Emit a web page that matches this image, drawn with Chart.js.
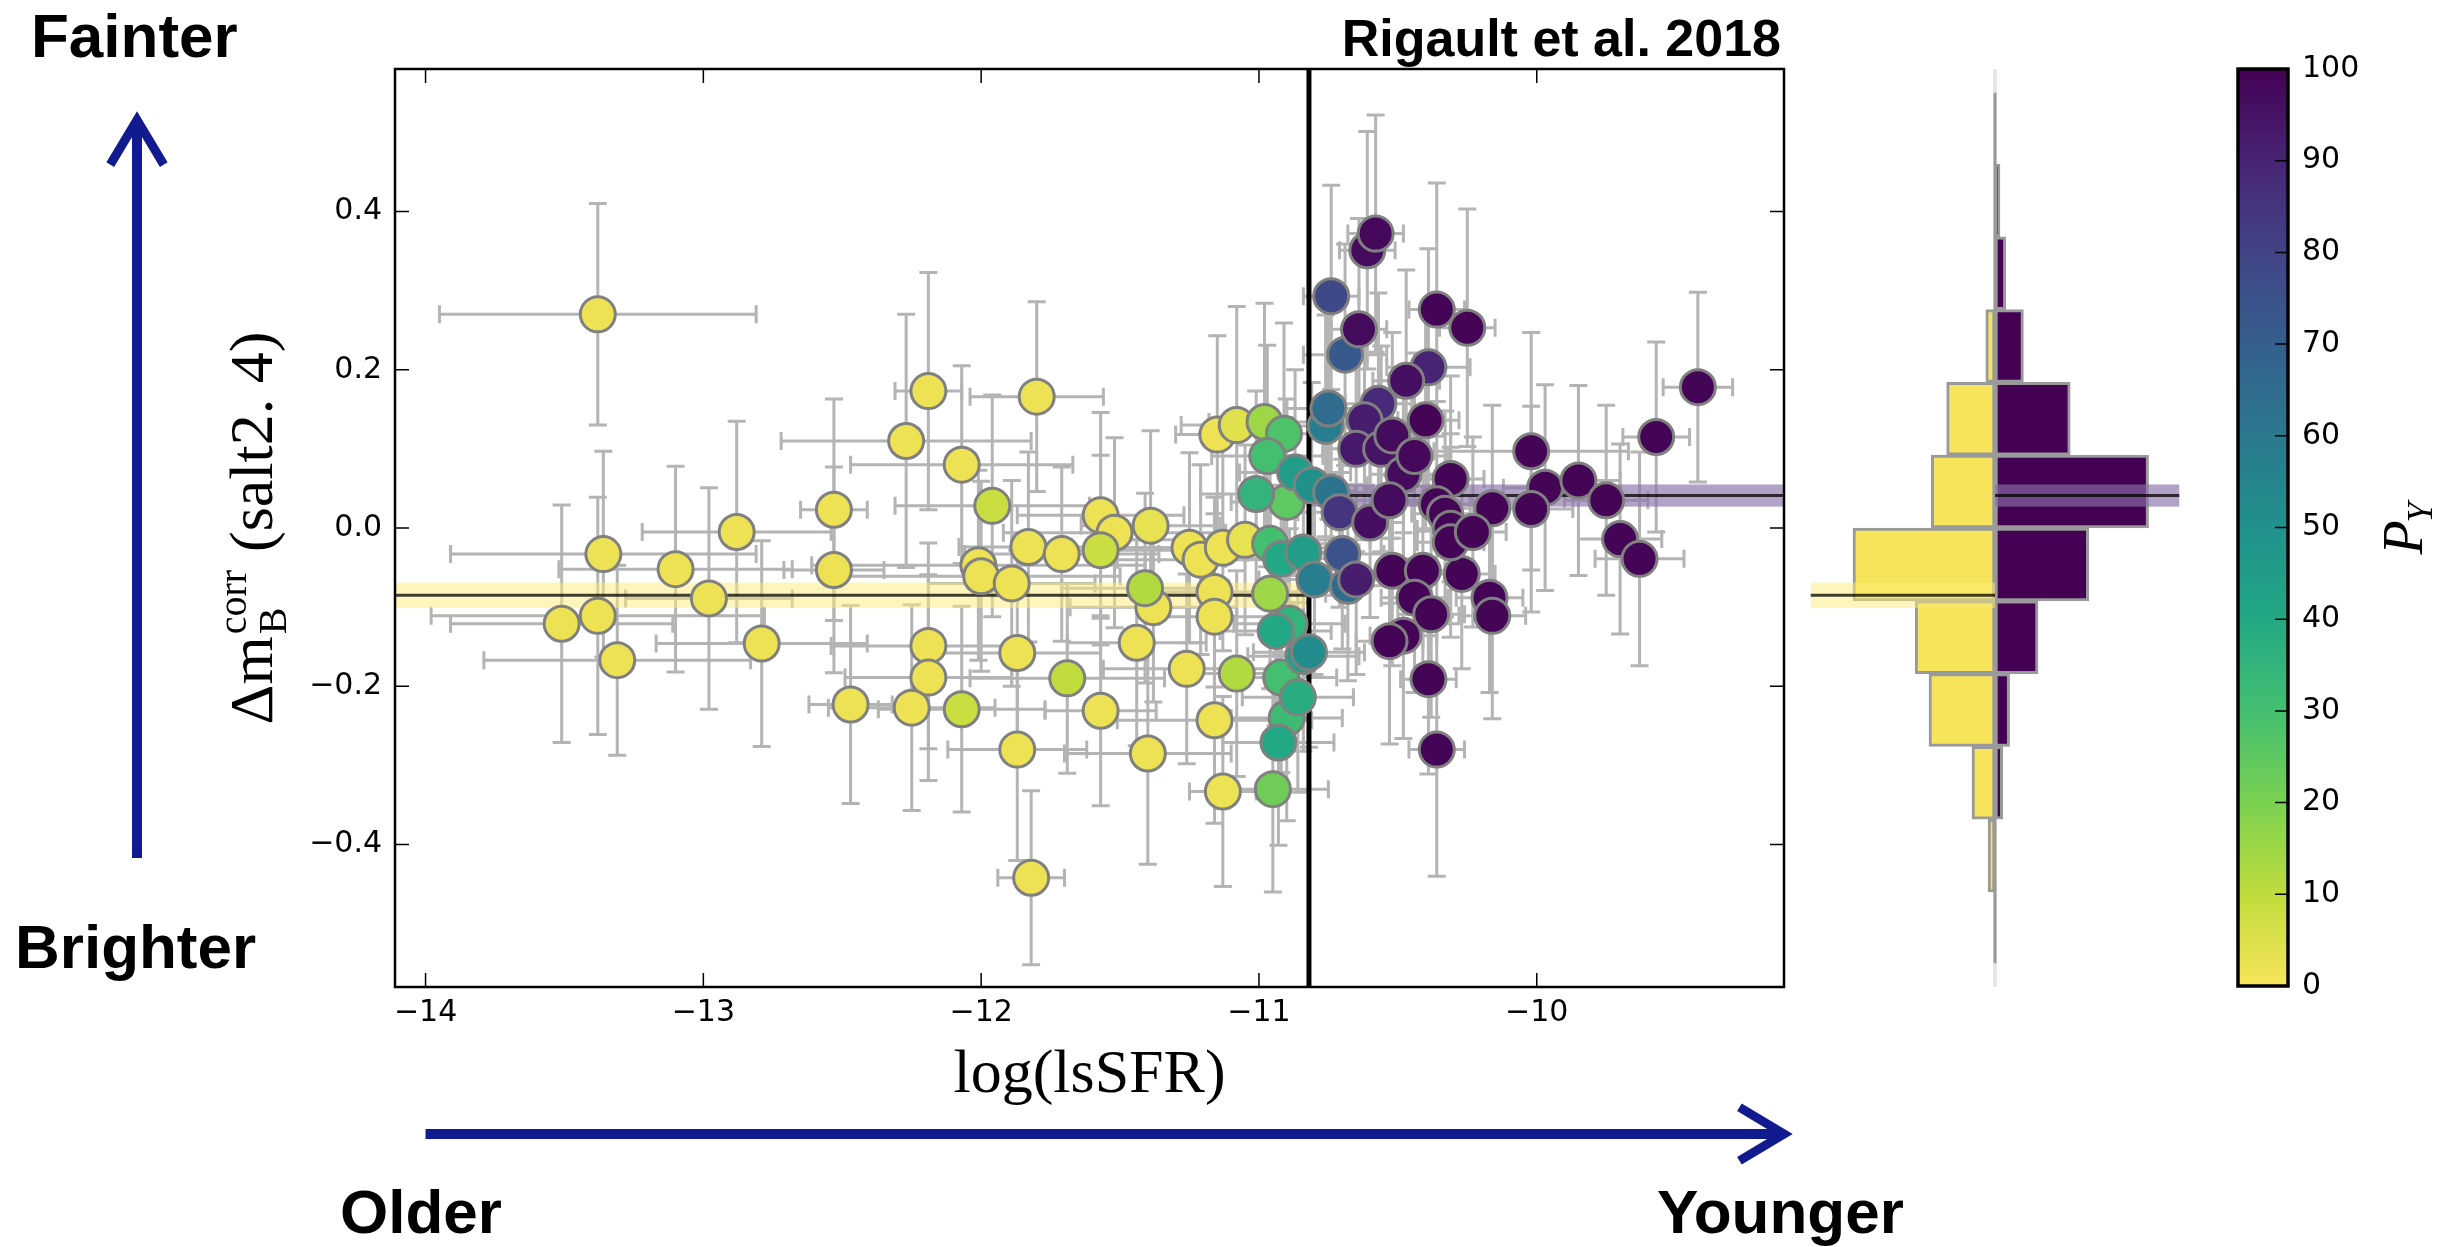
<!DOCTYPE html>
<html>
<head>
<meta charset="utf-8">
<script src="https://cdn.jsdelivr.net/npm/chart.js@4.4.1/dist/chart.umd.min.js"></script>
<style>
  html, body { margin: 0; padding: 0; background: #fff; }
  body { width: 2447px; height: 1247px; position: relative; overflow: hidden; }
  canvas { position: absolute; }
</style>
</head>
<body>
<canvas id="mainChart" width="1960" height="1247" style="left:0;top:0;width:1960px;height:1247px"></canvas>
<canvas id="histChart" width="400" height="918" style="left:1800px;top:69px;width:400px;height:918px"></canvas>
<canvas id="cbarChart" width="247" height="1247" style="left:2200px;top:0;width:247px;height:1247px"></canvas>
<script>
// --- axis ranges and ticks ---
const xMin = -14.11, xMax = -9.11;
const yMin = -0.58, yMax = 0.58;
const xTickValues = [-14, -13, -12, -11, -10];
const xTickLabels = ['−14', '−13', '−12', '−11', '−10'];
const yTickValues = [-0.4, -0.2, 0, 0.2, 0.4];
const yTickLabels = ['−0.4', '−0.2', '0.0', '0.2', '0.4'];
const cbTickValues = [0, 10, 20, 30, 40, 50, 60, 70, 80, 90, 100];
const cbTickLabels = ['0', '10', '20', '30', '40', '50', '60', '70', '80', '90', '100'];

// --- SNe Ia: local specific SFR, standardised residual, prob. young ---
const lsSFR = [
  -13.38, -13.36, -13.10, -12.98, -12.88, -13.51, -13.38, -13.31, -12.79, -12.53,
  -12.53, -12.47, -12.27, -12.19, -12.07, -11.80, -12.01, -12.00, -11.89, -11.83,
  -11.71, -11.57, -11.52, -11.39, -11.38, -11.44, -11.25, -11.21, -11.13, -11.05,
  -11.16, -11.16, -11.26, -11.16, -11.13, -11.40, -11.57, -11.87, -11.87, -12.19,
  -12.19, -12.25, -11.82, -11.15, -11.08, -11.96, -11.57, -11.41, -11.08, -11.69,
  -12.07, -10.98, -10.96, -10.95, -10.90, -10.91, -10.97, -10.96, -10.92, -10.90,
  -11.01, -10.89, -10.86, -10.92, -10.94, -10.93, -10.87, -10.84, -10.84, -10.81,
  -10.82, -10.80, -10.76, -10.74, -10.75, -10.68, -10.69, -10.70, -10.74, -10.71,
  -10.57, -10.39, -10.62, -10.65, -10.65, -10.56, -10.47, -10.60, -10.64, -10.61,
  -10.52, -10.48, -10.53, -10.58, -10.44, -10.36, -10.25, -10.40, -10.31, -10.36,
  -10.33, -10.31, -10.52, -10.41, -10.27, -10.44, -10.38, -10.48, -10.53, -10.39,
  -10.36, -10.02, -9.97, -9.85, -9.75, -9.70, -9.63, -9.57, -9.42, -10.02,
  -10.16, -10.31, -10.17, -10.16, -10.23
];
const lsSFRerr = [
  0.57, 0.55, 0.42, 0.30, 0.34, 0.40, 0.60, 0.48, 0.38, 0.12,
  0.18, 0.15, 0.45, 0.12, 0.40, 0.24, 0.60, 0.50, 0.30, 0.25,
  0.35, 0.30, 0.40, 0.25, 0.30, 0.25, 0.35, 0.30, 0.40, 0.45,
  0.30, 0.20, 0.30, 0.35, 0.12, 0.30, 0.20, 0.25, 0.30, 0.35,
  0.30, 0.30, 0.12, 0.15, 0.20, 0.35, 0.30, 0.30, 0.20, 0.35,
  0.30, 0.20, 0.20, 0.20, 0.20, 0.20, 0.20, 0.20, 0.20, 0.20,
  0.20, 0.20, 0.20, 0.20, 0.20, 0.20, 0.20, 0.20, 0.20, 0.20,
  0.20, 0.20, 0.15, 0.15, 0.15, 0.15, 0.15, 0.15, 0.10, 0.15,
  0.12, 0.15, 0.12, 0.12, 0.12, 0.12, 0.12, 0.12, 0.10, 0.10,
  0.12, 0.12, 0.12, 0.10, 0.12, 0.10, 0.10, 0.12, 0.12, 0.12,
  0.12, 0.12, 0.12, 0.12, 0.12, 0.12, 0.12, 0.12, 0.12, 0.10,
  0.10, 0.35, 0.15, 0.15, 0.15, 0.15, 0.16, 0.12, 0.125, 0.15,
  0.15, 0.12, 0.12, 0.12, 0.12
];
const dmB = [
  0.270, -0.033, -0.052, -0.089, -0.005, -0.121, -0.111, -0.167, -0.146, 0.023,
  -0.053, -0.223, 0.110, 0.173, 0.080, 0.166, -0.047, -0.061, -0.070, -0.024,
  -0.033, 0.016, -0.006, 0.003, -0.100, -0.145, -0.025, -0.040, -0.025, -0.015,
  -0.081, -0.112, -0.178, -0.243, -0.333, -0.285, -0.231, -0.280, -0.158, -0.149,
  -0.189, -0.227, -0.442, 0.118, 0.130, 0.028, -0.028, -0.076, -0.184, -0.190,
  -0.229, 0.134, -0.083, -0.330, 0.033, 0.119, 0.091, -0.020, -0.189, -0.240,
  0.043, -0.121, -0.214, -0.039, -0.130, -0.271, 0.070, -0.031, -0.162, 0.054,
  -0.157, -0.065, 0.129, 0.045, 0.151, -0.073, 0.219, -0.033, 0.293, 0.020,
  0.157, 0.203, 0.136, -0.065, 0.100, 0.100, 0.186, 0.007, 0.251, 0.351,
  0.117, 0.068, 0.035, 0.372, 0.091, 0.276, 0.253, 0.136, 0.062, 0.030,
  0.018, -0.001, -0.054, -0.054, -0.058, -0.088, -0.109, -0.136, -0.143, -0.191,
  -0.280, 0.097, 0.051, 0.060, 0.035, -0.014, -0.039, 0.115, 0.178, 0.024,
  0.025, -0.018, -0.088, -0.111, -0.005
];
const dmBerr = [
  0.14, 0.13, 0.13, 0.14, 0.14, 0.15, 0.15, 0.12, 0.13, 0.14,
  0.13, 0.125, 0.16, 0.15, 0.125, 0.12, 0.12, 0.12, 0.13, 0.12,
  0.11, 0.13, 0.12, 0.12, 0.12, 0.13, 0.12, 0.12, 0.13, 0.12,
  0.12, 0.13, 0.12, 0.13, 0.12, 0.14, 0.12, 0.14, 0.13, 0.13,
  0.13, 0.13, 0.11, 0.125, 0.15, 0.14, 0.12, 0.12, 0.13, 0.12,
  0.13, 0.15, 0.12, 0.13, 0.13, 0.14, 0.14, 0.12, 0.12, 0.13,
  0.13, 0.12, 0.12, 0.12, 0.12, 0.13, 0.13, 0.12, 0.12, 0.13,
  0.12, 0.12, 0.14, 0.13, 0.14, 0.12, 0.14, 0.12, 0.14, 0.12,
  0.14, 0.15, 0.13, 0.12, 0.13, 0.13, 0.14, 0.12, 0.14, 0.15,
  0.13, 0.13, 0.13, 0.15, 0.13, 0.16, 0.15, 0.14, 0.13, 0.13,
  0.13, 0.12, 0.12, 0.12, 0.12, 0.12, 0.13, 0.13, 0.13, 0.12,
  0.16, 0.15, 0.13, 0.12, 0.12, 0.12, 0.135, 0.12, 0.12, 0.13,
  0.13, 0.12, 0.12, 0.13, 0.12
];
const probY = [
  2, 2, 2, 2, 2, 2, 2, 2, 2, 2,
  2, 2, 2, 2, 2, 2, 2, 2, 2, 2,
  2, 2, 2, 3, 2, 2, 2, 2, 2, 3,
  2, 2, 2, 2, 2, 2, 2, 2, 2, 2,
  2, 2, 2, 2, 4, 8, 8, 12, 12, 10,
  8, 15, 15, 22, 25, 28, 30, 30, 30, 32,
  35, 35, 38, 40, 40, 40, 45, 45, 45, 50,
  52, 58, 58, 62, 65, 65, 72, 75, 78, 85,
  88, 90, 92, 92, 93, 95, 96, 96, 97, 97,
  97, 97, 97, 98, 98, 99, 99, 99, 99, 99,
  99, 99, 99, 99, 99, 99, 99, 99, 99, 99,
  99, 99, 99, 99, 99, 99, 99, 99, 99, 99,
  99, 99, 99, 99, 99
];

// --- split and weighted means of the two populations ---
const lsSFRcut = -10.82;
const meanOld = -0.085, meanOldErr = 0.016;
const meanYoung = 0.041, meanYoungErr = 0.014;

// --- marginal histogram (bins of dmB) ---
const histCenters = [-0.414, -0.322, -0.230, -0.138, -0.046, 0.046, 0.138, 0.230, 0.322, 0.414];
const histOld = [0.9, 3.0, 8.6, 10.4, 18.5, 8.3, 6.3, 1.2, 0, 0];
const histYoung = [0, 1.0, 1.9, 5.6, 12.2, 20.0, 9.8, 3.7, 1.4, 0.65];
const histMin = -25.4, histMax = 26.7, histBand = 24;

// viridis colormap (yellow end as it renders in the figure)
const viridisStops = ['#440154', '#482475', '#414487', '#355f8d', '#2a788e', '#21918c',
  '#22a884', '#44bf70', '#7ad151', '#bfdc3c', '#f8e45a'];
function hexToRgb(h) {
  return [parseInt(h.slice(1, 3), 16), parseInt(h.slice(3, 5), 16), parseInt(h.slice(5, 7), 16)];
}
function viridis(t) {
  t = Math.min(1, Math.max(0, t));
  const s = t * (viridisStops.length - 1);
  const i = Math.min(Math.floor(s), viridisStops.length - 2);
  const f = s - i;
  const a = hexToRgb(viridisStops[i]), b = hexToRgb(viridisStops[i + 1]);
  const c = a.map((v, k) => Math.round(v + (b[k] - v) * f));
  return 'rgb(' + c.join(',') + ')';
}
// P_Y = 100 -> dark purple, 0 -> yellow
const probColor = p => viridis(1 - p / 100);

Chart.defaults.font.family = '"DejaVu Sans", sans-serif';
Chart.defaults.color = '#000';
Chart.defaults.animation = false;

const SERIF = '"Liberation Serif", "DejaVu Serif", serif';
const SANS = '"Liberation Sans", Arial, sans-serif';
const ARROW_BLUE = '#111a8f';
const BAND_OLD = 'rgba(252, 236, 120, 0.5)';
const BAND_YOUNG = 'rgba(137, 112, 168, 0.65)';

function drawBand(ctx, x0, x1, yScale, mean, err, fill) {
  const yt = yScale.getPixelForValue(mean + err);
  const yb = yScale.getPixelForValue(mean - err);
  const ym = yScale.getPixelForValue(mean);
  ctx.fillStyle = fill;
  ctx.fillRect(x0, yt, x1 - x0, yb - yt);
  ctx.strokeStyle = 'rgba(0,0,0,0.75)';
  ctx.lineWidth = 3;
  ctx.beginPath();
  ctx.moveTo(x0, ym);
  ctx.lineTo(x1, ym);
  ctx.stroke();
}

function drawArrow(ctx, x0, y0, x1, y1) {
  const ang = Math.atan2(y1 - y0, x1 - x0);
  const len = 52, spread = 0.54;
  ctx.save();
  ctx.strokeStyle = ARROW_BLUE;
  ctx.lineWidth = 10;
  ctx.beginPath();
  ctx.moveTo(x0, y0);
  ctx.lineTo(x1 - 4 * Math.cos(ang), y1 - 4 * Math.sin(ang));
  ctx.stroke();
  ctx.lineWidth = 9;
  ctx.lineJoin = 'miter';
  ctx.beginPath();
  ctx.moveTo(x1 - len * Math.cos(ang - spread), y1 - len * Math.sin(ang - spread));
  ctx.lineTo(x1, y1);
  ctx.lineTo(x1 - len * Math.cos(ang + spread), y1 - len * Math.sin(ang + spread));
  ctx.stroke();
  ctx.restore();
}

// error bars, the lsSFR split and the two mean bands, under the markers
const underlayPlugin = {
  id: 'underlay',
  beforeDatasetsDraw(chart) {
    const { ctx, chartArea: a, scales: { x, y } } = chart;
    ctx.save();
    ctx.beginPath();
    ctx.rect(a.left, a.top, a.width, a.height);
    ctx.clip();

    ctx.strokeStyle = '#b4b4b4';
    ctx.lineWidth = 3;
    const cap = 9;
    for (let i = 0; i < lsSFR.length; i++) {
      const px = x.getPixelForValue(lsSFR[i]);
      const py = y.getPixelForValue(dmB[i]);
      const xl = x.getPixelForValue(lsSFR[i] - lsSFRerr[i]);
      const xr = x.getPixelForValue(lsSFR[i] + lsSFRerr[i]);
      const yt = y.getPixelForValue(dmB[i] + dmBerr[i]);
      const yb = y.getPixelForValue(dmB[i] - dmBerr[i]);
      ctx.beginPath();
      ctx.moveTo(xl, py); ctx.lineTo(xr, py);
      ctx.moveTo(px, yt); ctx.lineTo(px, yb);
      ctx.moveTo(xl, py - cap); ctx.lineTo(xl, py + cap);
      ctx.moveTo(xr, py - cap); ctx.lineTo(xr, py + cap);
      ctx.moveTo(px - cap, yt); ctx.lineTo(px + cap, yt);
      ctx.moveTo(px - cap, yb); ctx.lineTo(px + cap, yb);
      ctx.stroke();
    }

    const xc = x.getPixelForValue(lsSFRcut);
    drawBand(ctx, a.left, xc, y, meanOld, meanOldErr, BAND_OLD);
    drawBand(ctx, xc, a.right, y, meanYoung, meanYoungErr, BAND_YOUNG);

    ctx.strokeStyle = '#000';
    ctx.lineWidth = 5;
    ctx.beginPath();
    ctx.moveTo(xc, a.top);
    ctx.lineTo(xc, a.bottom);
    ctx.stroke();
    ctx.restore();
  }
};

// frame, inward ticks, axis labels and the annotations round the plot
const overlayPlugin = {
  id: 'overlay',
  afterDraw(chart) {
    const { ctx, chartArea: a, scales: { x, y } } = chart;
    ctx.save();
    ctx.strokeStyle = '#000';
    ctx.lineWidth = 1.5;
    const tl = 14;
    ctx.beginPath();
    xTickValues.forEach(v => {
      const px = x.getPixelForValue(v);
      ctx.moveTo(px, a.bottom); ctx.lineTo(px, a.bottom - tl);
      ctx.moveTo(px, a.top); ctx.lineTo(px, a.top + tl);
    });
    yTickValues.forEach(v => {
      const py = y.getPixelForValue(v);
      ctx.moveTo(a.left, py); ctx.lineTo(a.left + tl, py);
      ctx.moveTo(a.right, py); ctx.lineTo(a.right - tl, py);
    });
    ctx.stroke();
    ctx.lineWidth = 2.5;
    ctx.strokeRect(a.left, a.top, a.width, a.height);

    ctx.fillStyle = '#000';
    // x label
    ctx.font = '62px ' + SERIF;
    ctx.textAlign = 'center';
    ctx.textBaseline = 'alphabetic';
    ctx.fillText('log(lsSFR)', (a.left + a.right) / 2, 1092);

    // y label, rotated
    const big = '62px ' + SERIF, small = '40px ' + SERIF;
    ctx.font = big;
    const w1 = ctx.measureText('Δm').width;
    const w3 = ctx.measureText('(salt2. 4)').width;
    ctx.font = small;
    const w2 = Math.max(ctx.measureText('B').width, ctx.measureText('corr').width);
    const gap = 18;
    const total = w1 + 2 + w2 + gap + w3;
    const yc = (a.top + a.bottom) / 2;
    ctx.save();
    ctx.translate(272, yc + total / 2);
    ctx.rotate(-Math.PI / 2);
    ctx.textAlign = 'left';
    ctx.font = big;
    ctx.fillText('Δm', 0, 0);
    ctx.font = small;
    ctx.fillText('B', w1 + 2, 14);
    ctx.fillText('corr', w1 + 2, -26);
    ctx.font = big;
    ctx.fillText('(salt2. 4)', w1 + 2 + w2 + gap, 0);
    ctx.restore();

    // title
    ctx.font = 'bold 52px ' + SANS;
    ctx.textAlign = 'right';
    ctx.fillText('Rigault et al. 2018', a.right - 3, 56);

    // annotations
    ctx.font = 'bold 62px ' + SANS;
    ctx.textAlign = 'left';
    ctx.fillText('Fainter', 31, 57);
    ctx.fillText('Brighter', 15, 968);
    ctx.fillText('Older', 340, 1233);
    ctx.fillText('Younger', 1657, 1233);

    drawArrow(ctx, 137, 858, 137, 120);
    drawArrow(ctx, x.getPixelForValue(-14), 1134, a.right, 1134);
    ctx.restore();
  }
};

new Chart(document.getElementById('mainChart'), {
  type: 'scatter',
  data: {
    datasets: [{
      data: lsSFR.map((v, i) => ({ x: v, y: dmB[i] })),
      pointRadius: 17.5,
      pointHoverRadius: 17.5,
      pointBackgroundColor: probY.map(probColor),
      pointBorderColor: '#808080',
      pointBorderWidth: 3
    }]
  },
  options: {
    responsive: false,
    devicePixelRatio: 1,
    layout: { padding: { top: 69, right: 176, left: 0, bottom: 0 } },
    plugins: { legend: { display: false }, tooltip: { enabled: false } },
    scales: {
      x: {
        type: 'linear', min: xMin, max: xMax,
        afterBuildTicks: s => { s.ticks = xTickValues.map(v => ({ value: v })); },
        afterFit: s => { s.height = 260; },
        ticks: {
          font: { size: 30 }, padding: 8, maxRotation: 0, autoSkip: false,
          callback: v => xTickLabels[xTickValues.indexOf(v)]
        },
        grid: { display: false, drawTicks: false },
        border: { display: false }
      },
      y: {
        type: 'linear', min: yMin, max: yMax,
        afterBuildTicks: s => { s.ticks = yTickValues.map(v => ({ value: v })); },
        afterFit: s => { s.width = 395; },
        ticks: {
          font: { size: 30 }, padding: 13, autoSkip: false,
          callback: v => yTickLabels[yTickValues.findIndex(t => Math.abs(t - v) < 1e-9)]
        },
        grid: { display: false, drawTicks: false },
        border: { display: false }
      }
    }
  },
  plugins: [underlayPlugin, overlayPlugin]
});

// --- marginal histogram ---
const histPlugin = {
  id: 'histExtras',
  beforeDatasetsDraw(chart) {
    const { ctx, chartArea: a, scales: { x, y } } = chart;
    const x0 = x.getPixelForValue(0);
    ctx.save();
    ctx.strokeStyle = '#e6e6e6';
    ctx.lineWidth = 4;
    ctx.beginPath();
    ctx.moveTo(x0, a.top); ctx.lineTo(x0, a.bottom);
    ctx.stroke();
    ctx.strokeStyle = '#9a9a9a';
    ctx.lineWidth = 3;
    ctx.beginPath();
    ctx.moveTo(x0, y.getPixelForValue(0.55)); ctx.lineTo(x0, y.getPixelForValue(-0.55));
    ctx.stroke();
    ctx.restore();
  },
  afterDatasetsDraw(chart) {
    const { ctx, scales: { x, y } } = chart;
    ctx.save();
    drawBand(ctx, x.getPixelForValue(-histBand), x.getPixelForValue(0), y, meanOld, meanOldErr, BAND_OLD);
    drawBand(ctx, x.getPixelForValue(0), x.getPixelForValue(histBand), y, meanYoung, meanYoungErr, BAND_YOUNG);
    ctx.restore();
  }
};

new Chart(document.getElementById('histChart'), {
  type: 'bar',
  data: {
    datasets: [
      {
        data: histOld.map((v, i) => ({ x: -v, y: histCenters[i] })),
        backgroundColor: viridis(1),
        borderColor: '#9a9a9a', borderWidth: 3, borderSkipped: false
      },
      {
        data: histYoung.map((v, i) => ({ x: v, y: histCenters[i] })),
        backgroundColor: viridis(0),
        borderColor: '#9a9a9a', borderWidth: 3, borderSkipped: false
      }
    ]
  },
  options: {
    responsive: false,
    devicePixelRatio: 1,
    indexAxis: 'y',
    grouped: false,
    barPercentage: 1,
    categoryPercentage: 1,
    layout: { padding: 0 },
    plugins: { legend: { display: false }, tooltip: { enabled: false } },
    scales: {
      x: { type: 'linear', min: histMin, max: histMax, display: false },
      y: {
        type: 'linear', min: yMin, max: yMax, display: false, offset: false,
        afterBuildTicks: s => { s.ticks = histCenters.map(v => ({ value: v })); }
      }
    }
  },
  plugins: [histPlugin]
});

// --- colour bar for P_Y ---
const cbarPlugin = {
  id: 'cbarFrame',
  afterDraw(chart) {
    const { ctx, chartArea: a, scales: { y } } = chart;
    ctx.save();
    ctx.strokeStyle = '#000';
    ctx.lineWidth = 1.5;
    ctx.beginPath();
    cbTickValues.forEach(v => {
      const py = y.getPixelForValue(v);
      ctx.moveTo(a.right, py); ctx.lineTo(a.right - 13, py);
    });
    ctx.stroke();
    ctx.lineWidth = 3.5;
    ctx.strokeRect(a.left, a.top, a.width, a.height);

    ctx.translate(204, (a.top + a.bottom) / 2);
    ctx.rotate(-Math.PI / 2);
    ctx.fillStyle = '#000';
    ctx.textBaseline = 'alphabetic';
    ctx.textAlign = 'left';
    ctx.font = 'italic 56px ' + SERIF;
    const wp = ctx.measureText('P').width;
    ctx.font = 'italic 36px ' + SERIF;
    const wy = ctx.measureText('Y').width;
    const start = -(wp + wy) / 2;
    ctx.font = 'italic 56px ' + SERIF;
    ctx.fillText('P', start, 18);
    ctx.font = 'italic 36px ' + SERIF;
    ctx.fillText('Y', start + wp - 2, 28);
    ctx.restore();
  }
};

new Chart(document.getElementById('cbarChart'), {
  type: 'bar',
  data: {
    labels: ['P_Y'],
    datasets: [{
      data: [[cbTickValues[0], cbTickValues[cbTickValues.length - 1]]],
      backgroundColor: c => {
        const area = c.chart.chartArea;
        if (!area) return viridis(0.5);
        const g = c.chart.ctx.createLinearGradient(0, area.bottom, 0, area.top);
        viridisStops.forEach((s, i) => g.addColorStop(i / (viridisStops.length - 1), viridisStops[viridisStops.length - 1 - i]));
        return g;
      },
      borderWidth: 0,
      barPercentage: 1,
      categoryPercentage: 1
    }]
  },
  options: {
    responsive: false,
    devicePixelRatio: 1,
    layout: { padding: { left: 38, top: 69, bottom: 261, right: 0 } },
    plugins: { legend: { display: false }, tooltip: { enabled: false } },
    scales: {
      x: { display: false },
      y: {
        position: 'right', min: 0, max: 100,
        afterBuildTicks: s => { s.ticks = cbTickValues.map(v => ({ value: v })); },
        afterFit: s => { s.width = 159; },
        ticks: {
          font: { size: 30 }, padding: 14, autoSkip: false,
          callback: v => cbTickLabels[cbTickValues.indexOf(v)]
        },
        grid: { display: false, drawTicks: false },
        border: { display: false }
      }
    }
  },
  plugins: [cbarPlugin]
});
</script>
</body>
</html>
